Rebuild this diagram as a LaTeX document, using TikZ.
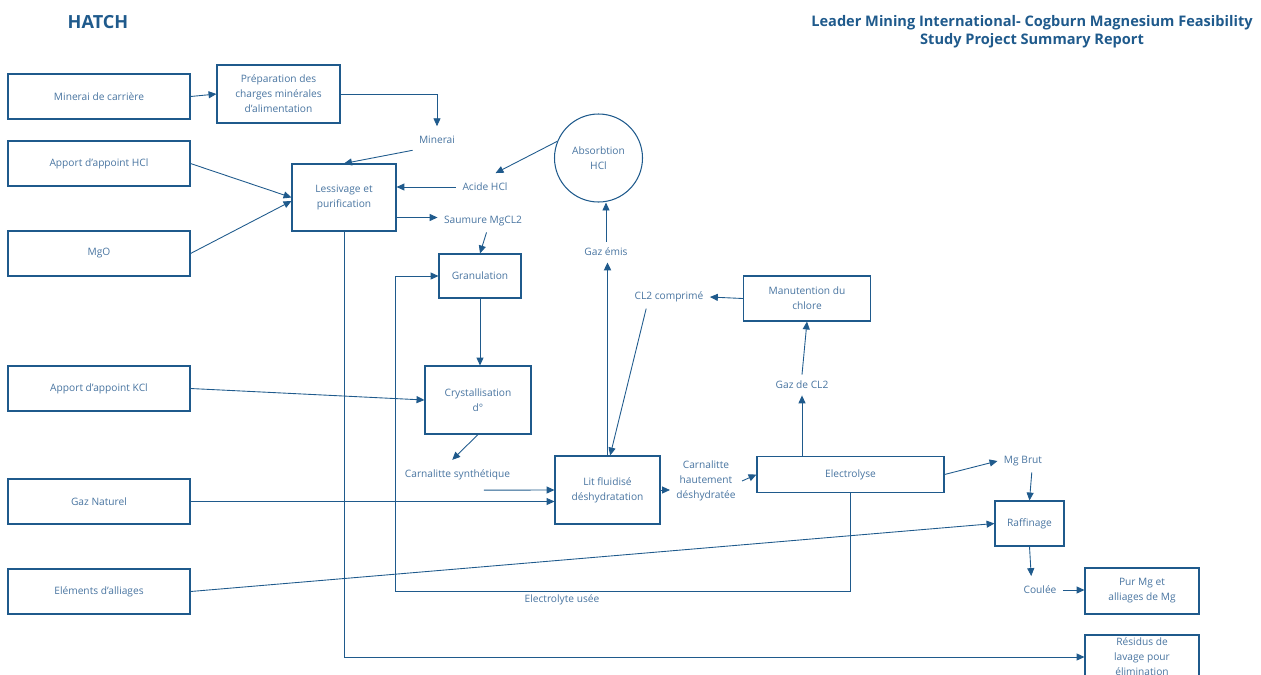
\documentclass[tikz,border=0pt]{standalone}
\usepackage{fontspec}
\setmainfont{Open Sans}
\usetikzlibrary{arrows.meta}
\definecolor{trait}{RGB}{31,90,140}
\definecolor{texte}{RGB}{72,116,160}

\begin{document}
\begin{tikzpicture}[x=0.02cm, y=-0.02cm,
every node/.style={text=texte, font=\fontsize{5.8}{8.6}\selectfont, align=center},
boite/.style 2 args={draw=trait, line width=0.6pt, inner sep=0pt, minimum width=#1*0.02cm, minimum height=#2*0.02cm},
rond/.style={circle, draw=trait, line width=0.6pt, inner sep=0pt, minimum size=88*0.02cm},
etiq/.style={inner sep=3.5pt},
fleche/.style={draw=trait, line width=0.5pt, -{Triangle[length=4.5pt,width=4pt]}},
titre/.style={text=trait, font=\fontsize{8.3}{10.2}\selectfont\bfseries}]
\useasboundingbox (0,0) rectangle (1261,674);

%entete
\node[titre, font=\fontsize{10.3}{12}\selectfont\bfseries](hatch) at (98,22) {HATCH};
\node[titre](rapport) at (1032,32) {Leader Mining International- Cogburn Magnesium Feasibility\\Study Project Summary Report};

%entrees a gauche
\node[boite={182}{45}](carriere) at (99,96.5) {Minerai de carrière};
\node[boite={182}{45}](hcl) at (99,163.5) {Apport d’appoint HCl};
\node[boite={182}{45}](mgo) at (99,253.5) {MgO};
\node[boite={182}{45}](kcl) at (99,388.5) {Apport d’appoint KCl};
\node[boite={182}{45}](gaz) at (99,501.5) {Gaz Naturel};
\node[boite={182}{45}](alliages) at (99,591.5) {Eléments d’alliages};

%etapes du procede
\node[boite={123}{58}](prep) at (278.5,94) {Préparation des\\charges minérales\\d’alimentation};
\node[boite={104}{67}](lessiv) at (344,197.5) {Lessivage et\\purification};
\node[rond](absorb) at (598.5,158) {Absorbtion\\HCl};
\node[boite={82}{44}](gran) at (480,276) {Granulation};
\node[boite={106}{68}](cryst) at (478,400) {Crystallisation\\d°};
\node[boite={105}{68}](lit) at (607.5,490) {Lit fluidisé\\déshydratation};
\node[boite={127}{45}](manut) at (807,298.5) {Manutention du\\chlore};
\node[boite={187}{36}](electro) at (850.5,474.5) {Electrolyse};
\node[boite={69}{45}](raff) at (1029.5,523.5) {Raffinage};
\node[boite={114}{46}](purmg) at (1142,591) {Pur Mg et\\alliages de Mg};
\node[boite={114}{44}](residus) at (1142,657) {Résidus de\\lavage pour\\élimination};

%etiquettes des flux
\node[etiq](minerai) at (437,140) {Minerai};
\node[etiq](acide) at (485,187) {Acide HCl};
\node[etiq](saumure) at (483,221) {Saumure MgCL2};
\node[etiq](gazemis) at (606,252) {Gaz émis};
\node[etiq](cl2comp) at (669,297) {CL2 comprimé};
\node[etiq](gazcl2) at (802,385) {Gaz de CL2};
\node[etiq](carnsyn) at (457.5,475) {Carnalitte synthétique};
\node[etiq](carnhaut) at (706,481) {Carnalitte\\hautement\\déshydratée};
\node[etiq](mgbrut) at (1023,461) {Mg Brut};
\node[etiq](coulee) at (1040,590) {Coulée};
\node[etiq](usee) at (562,600) {Electrolyte usée};

\coordinate(coinE) at (850.5,591);
\coordinate(coinO) at (395,591);

%fleches
\draw[fleche] (carriere.east) -- (prep.west);
\draw[fleche] (prep.east) -| ([yshift=2pt]minerai.north);
\draw[fleche] (minerai.south west) -- (lessiv.north);
\draw[fleche] (hcl.east) -- (lessiv.west);
\draw[fleche] (mgo.east) -- ([yshift=-2pt]lessiv.west);
\draw[fleche] (acide.west) -- (lessiv.east |- acide.west);
\draw[fleche] (absorb.158) -- ([xshift=6pt,yshift=2pt]acide.north);
\draw[fleche] ([yshift=2pt]lessiv.east |- saumure.west) -- ([yshift=2pt]saumure.west);
\draw[fleche] ([xshift=2pt]saumure.south) -- (gran.north);
\draw[fleche] (gran.south) -- (gran.south |- cryst.north);
\draw[fleche] (kcl.east) -- (cryst.west);
\draw[fleche] (cryst.south) -- ([xshift=-3pt,yshift=2pt]carnsyn.north);
\draw[fleche] ([xshift=15pt,yshift=-2pt]carnsyn.south) -- (lit.west);
\draw[fleche] (gaz.east) -- (lit.west |- gaz.east);
\draw[fleche, line width=1pt] (lit.north) -- (lit.north |- gazemis.south);
\draw[fleche] (gazemis.north) -- (gazemis.north |- absorb.south);
\draw[fleche] ([xshift=-13pt]cl2comp.south) -- ([xshift=1.5pt]lit.north);
\draw[fleche] (manut.west) -- (cl2comp.east);
\draw[fleche] (gazcl2.north) -- (manut.south);
\draw[fleche] (gazcl2.south |- electro.north) -- (gazcl2.south);
\draw[fleche] (lit.east) -- (carnhaut.west |- lit.east);
\draw[fleche] (carnhaut.east) -- (electro.west);
\draw[fleche] (electro.east) -- (mgbrut.west);
\draw[fleche] ([xshift=5pt]mgbrut.south) -- (raff.north);
\draw[fleche] (alliages.east) -- (raff.west);
\draw[fleche] (raff.south) -- ([xshift=-5pt,yshift=2pt]coulee.north);
\draw[fleche] (coulee.east) -- (purmg.west |- coulee.east);

%boucle de l'electrolyte et residus
\draw[fleche] (electro.south) -- (coinE) -- (coinO) |- (gran.west);
\draw[fleche] (lessiv.south) |- (residus.west);
\end{tikzpicture}
\end{document}
